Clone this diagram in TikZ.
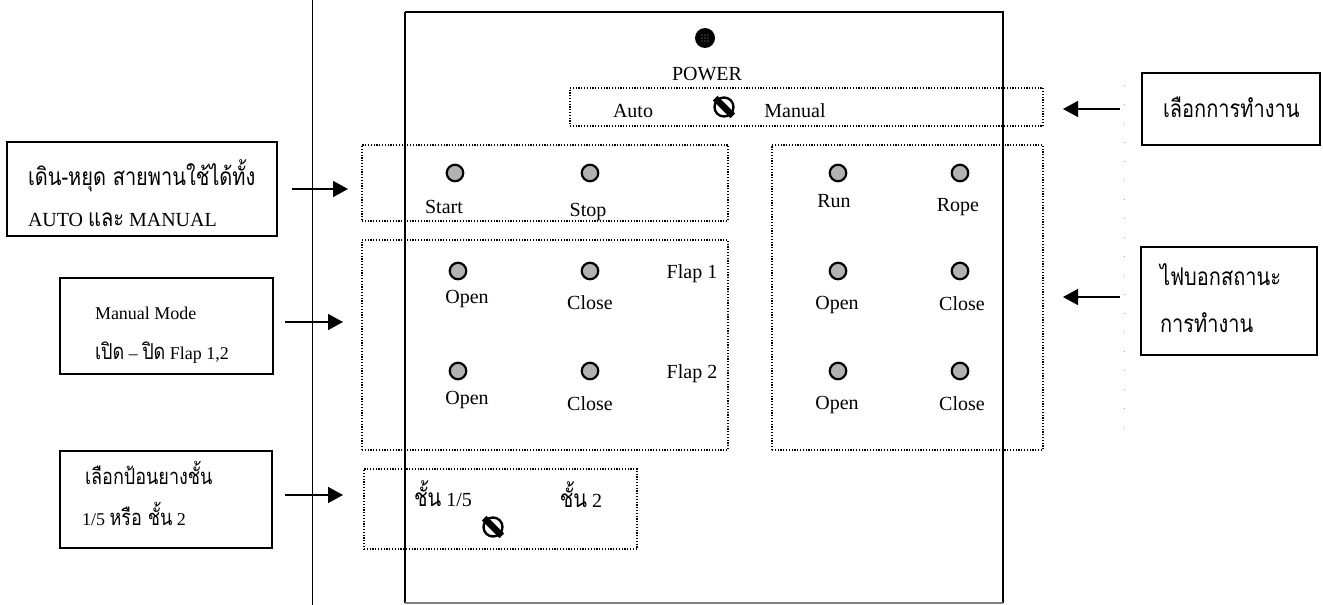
\documentclass[tikz,border=0pt]{standalone}
\usepackage{fontspec}
\setmainfont{Liberation Serif}
\newfontfamily\thai[Script=Thai, FakeStretch=0.82, Scale=1.22]{Loma}
\usetikzlibrary{arrows.meta}
\begin{document}
\begin{tikzpicture}[x=1pt,y=-1pt,
  every node/.style={inner sep=0pt, outer sep=0pt},
  pfont/.style={font=\fontsize{20}{24}\selectfont},
  cfont/.style={font=\fontsize{18}{22}\selectfont},
  lbl/.style={pfont, anchor=base},
  ctext/.style={anchor=base west},
  callout/.style={draw, line width=1.7pt},
  grp/.style={draw, line width=1.3pt, dash pattern=on 1.2pt off 1.6pt},
  lamp/.style={circle, draw, line width=2.2pt, fill=gray!60, minimum size=16.5pt},
  swc/.style={circle, draw, line width=2.4pt, minimum size=19pt},
  swbar/.style={line width=6.5pt, shorten <=-3pt, shorten >=-3pt},
  arr/.style={line width=1.5pt, -{Triangle[length=15pt,width=16pt]}},
]
\useasboundingbox (0,0) rectangle (1323,605);
\fill[white] (0,0) rectangle (1323,605);

% thin vertical line
\coordinate (vt) at (312,0);
\coordinate (vb) at (312,605);
\draw[line width=0.9pt] (vt) -- (vb);

% panel
\node[minimum width=598pt, minimum height=591pt] (panel) at (704,307.5) {};
\draw[line width=2.2pt] (panel.north west) -- (panel.north east) -- (panel.south east);
\draw[line width=2.8pt] (panel.north west) -- (panel.south west);
\draw[gray, line width=1.2pt] (panel.south west) -- (panel.south east);

% dotted groups
\node[grp, minimum width=473pt, minimum height=38pt] (gA) at (806.5,107) {};
\node[grp, minimum width=366pt, minimum height=76pt] (gS) at (545,183) {};
\node[grp, minimum width=366pt, minimum height=210pt] (gF) at (545,345) {};
\node[grp, minimum width=271pt, minimum height=305pt] (gR) at (907.5,297.5) {};
\node[grp, minimum width=273pt, minimum height=80pt] (gB) at (500.5,509) {};

% power lamp
\node[circle, fill=black, minimum size=20pt,
  path picture={\foreach \i in {-1,0,1} \foreach \j in {-1,0,1}
    \fill[gray!70] ([xshift=\i*3pt, yshift=\j*3pt]path picture bounding box.center) circle (0.7pt);}]
  (pw) at (705,38) {};
\node[lbl] (tpw) at (707,80) {POWER};

% auto/manual
\node[lbl] (tauto) at (633,117) {Auto};
\node[lbl] (tman) at (795,117) {Manual};
\node[swc] (sw1) at (724,107) {};
\draw[swbar] (sw1.north west) -- (sw1.south east);

% start / stop
\node[lamp] (lst) at (455,173) {};
\node[lamp] (lsp) at (590,173) {};
\node[lbl] (tst) at (444,213) {Start};
\node[lbl] (tsp) at (588,216) {Stop};

% run / rope
\node[lamp] (lrun) at (838,173) {};
\node[lamp] (lrope) at (960,173) {};
\node[lbl] (trun) at (834,207) {Run};
\node[lbl] (trope) at (958,211) {Rope};

% flap 1 row
\node[lamp] (l11) at (458,271) {};
\node[lamp] (l12) at (590,271) {};
\node[lamp] (l13) at (838,271) {};
\node[lamp] (l14) at (960,271) {};
\node[lbl] (t11) at (467,303) {Open};
\node[lbl] (t12) at (590,309) {Close};
\node[lbl] (tf1) at (692,278) {Flap 1};
\node[lbl] (t13) at (837,309) {Open};
\node[lbl] (t14) at (962,310) {Close};

% flap 2 row
\node[lamp] (l21) at (458,371) {};
\node[lamp] (l22) at (590,371) {};
\node[lamp] (l23) at (838,371) {};
\node[lamp] (l24) at (960,371) {};
\node[lbl] (t21) at (467,404) {Open};
\node[lbl] (t22) at (590,410) {Close};
\node[lbl] (tf2) at (692,378) {Flap 2};
\node[lbl] (t23) at (837,409) {Open};
\node[lbl] (t24) at (962,410) {Close};

% layer selector
\node[lbl] (tc1) at (443,506) {{\thai ชั้น} 1/5};
\node[lbl] (tc2) at (581,507) {{\thai ชั้น} 2};
\node[swc] (sw2) at (493,527) {};
\draw[swbar] (sw2.north west) -- (sw2.south east);

% callout boxes (left)
\node[callout, minimum width=270pt, minimum height=94pt] (b1) at (142,189) {};
\node[ctext, pfont] (b1a) at (28,185) {\thai เดิน-หยุด สายพานใช้ได้ทั้ง};
\node[ctext, pfont] (b1b) at (28,226) {AUTO {\thai และ} MANUAL};

\node[callout, minimum width=213pt, minimum height=96pt] (b2) at (166.5,326) {};
\node[ctext, cfont] (b2a) at (95,319) {Manual Mode};
\node[ctext, cfont] (b2b) at (95,359) {{\thai เปิด} -- {\thai ปิด} Flap 1,2};

\node[callout, minimum width=212pt, minimum height=97pt] (b3) at (166,499.5) {};
\node[ctext, cfont] (b3a) at (85,484) {\thai เลือกป้อนยางชั้น};
\node[ctext, cfont] (b3b) at (82,525) {1/5 {\thai หรือ ชั้น} 2};

% callout boxes (right)
\node[callout, minimum width=178pt, minimum height=72pt] (bA) at (1231,109) {};
\node[ctext, pfont] (bAa) at (1163,117) {\thai เลือกการทำงาน};

\node[callout, minimum width=176pt, minimum height=108pt] (bB) at (1229,301) {};
\node[ctext, pfont] (bBa) at (1160,285) {\thai ไฟบอกสถานะ};
\node[ctext, pfont] (bBb) at (1160,332) {\thai การทำงาน};

% faint scan line
\draw[gray!70, line width=0.8pt, dash pattern=on 1pt off 18pt] (1124,85) -- (1124,440);

% arrows
\draw[arr] ([xshift=15pt]b1.east) -- ([xshift=-14pt]b1.east -| gS.west);
\draw[arr] ([xshift=12pt,yshift=4pt]b2.east) -- ([xshift=-19pt,yshift=4pt]b2.east -| gF.west);
\draw[arr] ([xshift=13pt,yshift=4.5pt]b3.east) -- ([xshift=-21pt,yshift=4.5pt]b3.east -| gB.west);
\draw[arr] ([xshift=-22pt]bA.west) -- ([xshift=20pt]bA.west -| gA.east);
\draw[arr] ([xshift=-21pt,yshift=4pt]bB.west) -- ([xshift=20pt,yshift=4pt]bB.west -| gR.east);
\end{tikzpicture}
\end{document}
